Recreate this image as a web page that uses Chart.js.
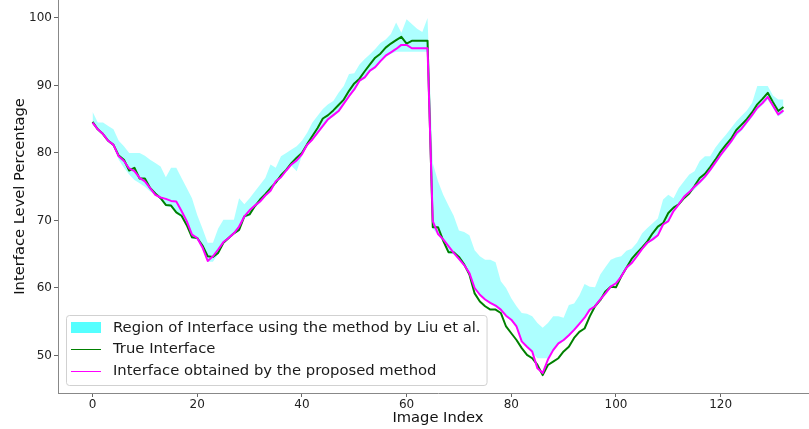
<!DOCTYPE html>
<html>
<head>
<meta charset="utf-8">
<script src="https://cdn.jsdelivr.net/npm/chart.js@4.4.1/dist/chart.umd.min.js"></script>
<style>
    html, body { margin: 0; padding: 0; background: #fff; overflow: hidden; }
    #wrap { position: relative; width: 818px; height: 429px; }
</style>
</head>
<body>
<div id="wrap"><canvas id="interfaceChart"></canvas></div>
<script>
// image index 0..132
const trueInterface = [
    84.6, 83.5, 82.8, 81.8, 81.2, 79.6, 79.0, 77.4, 77.8, 76.2,
    76.2, 74.8, 74.0, 73.3, 72.3, 72.2, 71.2, 70.7, 69.3, 67.5,
    67.4, 66.3, 64.7, 64.6, 65.2, 66.7, 67.4, 68.1, 68.6, 70.6,
    70.9, 72.1, 73.1, 73.9, 74.8, 75.6, 76.7, 77.5, 78.5, 79.3,
    80.0, 81.3, 82.5, 83.7, 85.1, 85.6, 86.3, 87.1, 87.9, 89.2,
    90.3, 91.0, 92.1, 93.1, 94.1, 94.7, 95.6, 96.2, 96.7, 97.2,
    96.2, 96.6, 96.6, 96.6, 96.6, 69.0, 69.0, 67.0, 65.3, 65.3,
    64.6, 63.5, 62.0, 59.2, 58.0, 57.3, 56.8, 56.8, 56.3, 54.3,
    53.3, 52.3, 51.1, 50.1, 49.6, 48.6, 47.1, 48.6, 49.1, 49.6,
    50.6, 51.3, 52.6, 53.5, 54.0, 55.8, 57.3, 58.2, 59.5, 60.2,
    60.1, 61.7, 63.0, 64.3, 65.2, 66.0, 66.9, 68.1, 69.1, 69.6,
    71.1, 71.9, 72.4, 73.3, 74.0, 75.1, 76.3, 76.9, 77.9, 79.0,
    80.2, 81.2, 82.1, 83.4, 84.2, 85.0, 86.0, 87.2, 88.0, 88.9,
    87.5, 86.2, 86.8
];

const proposedInterface = [
    84.5, 83.5, 82.8, 81.8, 81.2, 79.5, 78.8, 77.7, 77.3, 76.3,
    75.8, 74.8, 73.8, 73.4, 73.2, 72.9, 72.8, 71.4, 69.9, 67.9,
    67.4, 66.0, 64.0, 64.7, 65.7, 66.8, 67.4, 68.1, 69.1, 70.6,
    71.5, 72.2, 72.8, 73.7, 74.4, 75.8, 76.4, 77.4, 78.3, 78.9,
    79.8, 81.2, 82.0, 83.0, 84.0, 85.0, 85.6, 86.2, 87.3, 88.4,
    89.4, 90.7, 91.2, 92.2, 92.7, 93.6, 94.4, 94.9, 95.4, 96.0,
    96.0, 95.5, 95.5, 95.5, 95.5, 69.9, 68.0, 67.2, 66.2, 65.2,
    64.3, 63.4, 62.2, 60.0, 59.0, 58.3, 57.8, 57.4, 56.8, 55.9,
    55.3, 54.3, 52.1, 51.3, 50.6, 48.1, 47.4, 49.4, 50.8, 51.8,
    52.3, 53.0, 53.8, 54.7, 55.6, 56.8, 57.3, 58.3, 59.2, 60.2,
    60.7, 61.7, 63.0, 63.7, 64.7, 65.8, 66.7, 67.2, 67.8, 69.4,
    69.9, 71.4, 72.4, 73.5, 74.2, 75.0, 75.7, 76.5, 77.5, 78.6,
    79.7, 80.7, 81.7, 82.9, 83.6, 84.6, 85.6, 86.7, 87.4, 88.3,
    87.0, 85.7, 86.3
];

// upper / lower edge of the Liu et al. region
const liuUpper = [
    86.1, 84.5, 84.5, 84.0, 83.5, 81.8, 81.0, 80.0, 80.0, 80.0,
    79.6, 79.0, 78.5, 78.0, 76.4, 77.8, 77.8, 76.3, 74.8, 73.3,
    70.8, 68.8, 66.7, 66.7, 68.8, 70.1, 70.1, 70.1, 73.3, 72.4,
    73.3, 74.3, 75.3, 76.3, 78.3, 77.8, 79.5, 80.0, 80.5, 81.0,
    81.8, 83.0, 84.5, 85.5, 86.5, 87.2, 87.7, 88.9, 89.9, 91.7,
    91.8, 93.1, 93.9, 94.6, 95.4, 96.3, 96.8, 97.6, 99.3, 97.8,
    99.8, 99.1, 98.4, 97.9, 100.0, 78.5, 75.8, 73.8, 72.2, 70.7,
    68.5, 68.3, 67.8, 65.6, 64.7, 64.2, 64.2, 63.8, 61.0, 60.0,
    58.5, 57.3, 56.3, 56.2, 55.8, 54.8, 54.1, 54.8, 55.8, 55.8,
    55.6, 57.5, 57.7, 58.9, 60.6, 60.2, 60.1, 62.0, 63.1, 64.2,
    64.5, 64.7, 65.5, 65.8, 66.7, 68.1, 68.9, 69.6, 70.3, 73.1,
    73.8, 73.3, 74.8, 75.8, 76.8, 77.3, 78.8, 79.5, 79.5, 80.8,
    81.8, 82.7, 83.7, 84.7, 85.5, 86.3, 87.4, 89.9, 89.9, 89.9,
    88.5, 87.9, 87.9
];

const liuLower = [
    84.3, 83.3, 82.6, 81.6, 80.9, 79.0, 77.8, 76.8, 76.0, 75.5,
    75.0, 74.3, 73.8, 73.1, 72.1, 72.0, 71.0, 70.5, 69.1, 67.3,
    67.2, 65.8, 63.9, 63.9, 65.0, 66.5, 67.2, 67.9, 68.4, 70.3,
    70.7, 71.9, 72.6, 73.5, 74.2, 75.4, 76.2, 77.2, 78.1, 77.3,
    79.6, 81.0, 81.8, 82.8, 83.8, 84.8, 85.4, 86.0, 87.1, 88.2,
    89.2, 90.5, 91.0, 92.0, 92.5, 93.4, 94.2, 94.7, 95.0, 95.0,
    95.0, 95.0, 95.0, 95.0, 95.0, 68.8, 67.8, 66.8, 65.1, 65.0,
    64.1, 63.2, 61.8, 59.9, 58.9, 58.2, 57.6, 57.2, 56.6, 55.7,
    55.1, 54.1, 52.0, 51.2, 50.4, 49.6, 49.6, 49.6, 50.6, 51.6,
    52.1, 52.8, 53.6, 54.5, 55.4, 56.6, 57.1, 58.1, 59.0, 60.0,
    60.5, 61.5, 62.8, 63.5, 64.5, 65.6, 66.5, 67.0, 67.6, 69.2,
    69.7, 71.2, 72.2, 73.2, 73.9, 74.6, 75.4, 76.2, 77.2, 78.3,
    79.4, 80.4, 81.4, 82.5, 83.3, 84.3, 85.3, 86.4, 87.1, 87.9,
    86.7, 85.4, 85.9
];

const xTicks = [0, 20, 40, 60, 80, 100, 120];
const yTicks = [50, 60, 70, 80, 90, 100];

const seriesLabels = [
    'Region of Interface using the method by Liu et al.',
    'True Interface',
    'Interface obtained by the proposed method'
];

const FONT = '"DejaVu Sans", "Liberation Sans", sans-serif';
const BAND = 'rgba(0, 255, 255, 0.32)';

const toPoints = arr => arr.map((y, x) => ({x, y}));

// legend in the lower-left corner of the plot, drawn on top of everything
const cornerLegend = {
    id: 'cornerLegend',
    afterDraw(chart) {
        const {ctx, chartArea} = chart;
        ctx.save();
        ctx.font = '14.8px ' + FONT;
        const textW = Math.max(...seriesLabels.map(t => ctx.measureText(t).width));
        const w = 47 + textW + 6;
        const h = 70;
        const x0 = chartArea.left + 8;
        const y0 = chartArea.bottom - 8 - h;

        ctx.beginPath();
        ctx.roundRect(x0 + 0.5, y0 + 0.5, w, h, 3);
        ctx.fillStyle = 'rgba(255, 255, 255, 0.8)';
        ctx.fill();
        ctx.strokeStyle = 'rgba(204, 204, 204, 0.9)';
        ctx.lineWidth = 1;
        ctx.stroke();

        const rowY = [y0 + 12.5, y0 + 34, y0 + 56];
        const keyX = x0 + 5;

        ctx.fillStyle = 'rgb(85, 255, 255)';
        ctx.fillRect(keyX, rowY[0] - 5.5, 30, 11);

        ctx.lineWidth = 1;
        ctx.strokeStyle = 'green';
        ctx.beginPath();
        ctx.moveTo(keyX, rowY[1] + 0.5);
        ctx.lineTo(keyX + 30, rowY[1] + 0.5);
        ctx.stroke();

        ctx.strokeStyle = '#ff00ff';
        ctx.beginPath();
        ctx.moveTo(keyX, rowY[2] + 0.5);
        ctx.lineTo(keyX + 30, rowY[2] + 0.5);
        ctx.stroke();

        ctx.fillStyle = '#1a1a1a';
        ctx.textBaseline = 'middle';
        seriesLabels.forEach((t, i) => ctx.fillText(t, x0 + 47, rowY[i] + 0.5));
        ctx.restore();
    }
};

new Chart(document.getElementById('interfaceChart'), {
    type: 'line',
    data: {
        datasets: [
            {
                label: seriesLabels[2],
                data: toPoints(proposedInterface),
                borderColor: '#ff00ff',
                borderWidth: 2,
                pointRadius: 0,
                borderJoinStyle: 'round',
                fill: false
            },
            {
                label: seriesLabels[1],
                data: toPoints(trueInterface),
                borderColor: 'green',
                borderWidth: 2,
                pointRadius: 0,
                borderJoinStyle: 'round',
                fill: false
            },
            {
                label: 'lower',
                data: toPoints(liuLower),
                borderColor: 'transparent',
                borderWidth: 0,
                pointRadius: 0,
                fill: false
            },
            {
                label: seriesLabels[0],
                data: toPoints(liuUpper),
                borderColor: 'transparent',
                borderWidth: 0,
                pointRadius: 0,
                backgroundColor: BAND,
                fill: '-1'
            }
        ]
    },
    options: {
        responsive: true,
        maintainAspectRatio: false,
        animation: false,
        layout: {padding: 0},
        plugins: {
            legend: {display: false},
            tooltip: {enabled: false}
        },
        scales: {
            x: {
                type: 'linear',
                min: -6.6,
                max: 138.6,
                afterBuildTicks: axis => { axis.ticks = xTicks.map(value => ({value})); },
                afterFit: axis => { axis.height = 36; axis.paddingLeft = 0; axis.paddingRight = 0; },
                grid: {drawOnChartArea: false, tickLength: 4, tickColor: '#666'},
                border: {color: '#888', width: 1},
                ticks: {color: '#222', font: {family: FONT, size: 12}, padding: 1, maxRotation: 0},
                title: {
                    display: true,
                    text: 'Image Index',
                    color: '#111',
                    font: {family: FONT, size: 14.7},
                    padding: {top: 0, bottom: 2}
                }
            },
            y: {
                min: 44.45,
                max: 102.65,
                afterBuildTicks: axis => { axis.ticks = yTicks.map(value => ({value})); },
                afterFit: axis => { axis.width = 58; axis.paddingTop = 0; axis.paddingBottom = 0; },
                grid: {drawOnChartArea: false, tickLength: 4, tickColor: '#666'},
                border: {color: '#888', width: 1},
                ticks: {color: '#222', font: {family: FONT, size: 12}, padding: 2},
                title: {
                    display: true,
                    text: 'Interface Level Percentage',
                    color: '#111',
                    font: {family: FONT, size: 14.7},
                    padding: {top: 11, bottom: 0}
                }
            }
        }
    },
    plugins: [cornerLegend]
});
</script>
</body>
</html>
